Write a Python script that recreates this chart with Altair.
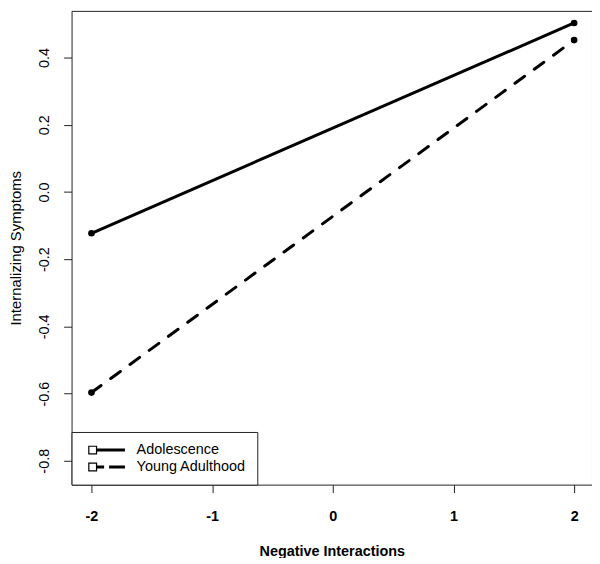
import altair as alt
import pandas as pd

# ---- data ----
x_values = [-2, 2]
adolescence = [-0.123, 0.503]
young_adulthood = [-0.597, 0.452]
series_names = ["Adolescence", "Young Adulthood"]
x_ticks = [-2, -1, 0, 1, 2]
y_ticks = [-0.8, -0.6, -0.4, -0.2, 0.0, 0.2, 0.4]

rows = []
for name, vals in zip(series_names, [adolescence, young_adulthood]):
    for xv, yv in zip(x_values, vals):
        rows.append({"x": xv, "y": yv, "series": name})
df = pd.DataFrame(rows)

FONT = "Liberation Sans"
INK = "#222222"

xs = alt.Scale(domain=[-2.165, 2.148], nice=False, zero=False)
ys = alt.Scale(domain=[-0.871, 0.539], nice=False, zero=False)

x_axis = alt.Axis(
    values=x_ticks,
    labelExpr="datum.value < 0 ? '-' + format(-datum.value, 'd') : format(datum.value, 'd')",
    labelFont=FONT, labelFontSize=14.5, labelFontWeight="bold", labelColor="black",
    labelPadding=17, tickSize=8, tickColor=INK, domain=False, grid=False,
    title="Negative Interactions", titleFont=FONT, titleFontSize=14.5,
    titleFontWeight="bold", titleColor="black", titlePadding=22,
)
y_axis = alt.Axis(
    values=y_ticks,
    labelExpr="datum.value < 0 ? '-' + format(-datum.value, '.1f') : format(datum.value, '.1f')",
    labelFont=FONT, labelFontSize=14.5, labelFontWeight="normal", labelColor="black",
    labelAngle=270, labelPadding=12, tickSize=8, tickColor=INK, domain=False, grid=False,
    title="Internalizing Symptoms", titleFont=FONT, titleFontSize=15,
    titleFontWeight="normal", titleColor="black", titlePadding=13,
)

base = alt.Chart(df).encode(
    x=alt.X("x:Q", scale=xs, axis=x_axis),
    y=alt.Y("y:Q", scale=ys, axis=y_axis),
)

line_solid = base.transform_filter(
    alt.datum.series == series_names[0]
).mark_line(color="black", strokeWidth=3, strokeCap="round")

line_dashed = base.transform_filter(
    alt.datum.series == series_names[1]
).mark_line(color="black", strokeWidth=3, strokeCap="round", strokeDash=[12, 12])

points = base.mark_point(filled=True, color="black", size=45, opacity=1)

# legend symbol: open square followed by a thick (solid / dashed) line
sq = ("M-0.33,-1L1.67,-1L1.67,1L-0.33,1Z "
      "M-0.06,-0.73L-0.06,0.73L1.4,0.73L1.4,-0.73Z")
solid_sym = sq + " M1.67,-0.333L7.89,-0.333L7.89,0.333L1.67,0.333Z"
dashed_sym = (sq + " M1.67,-0.333L3.23,-0.333L3.23,0.333L1.67,0.333Z"
              " M4.34,-0.333L7.89,-0.333L7.89,0.333L4.34,0.333Z")

legend_layer = base.mark_point(
    filled=True, color="black", size=81, opacity=0
).encode(
    shape=alt.Shape(
        "series:N",
        scale=alt.Scale(domain=series_names, range=[solid_sym, dashed_sym]),
        legend=alt.Legend(
            title=None, orient="bottom-left", offset=0, padding=11,
            strokeColor=INK, fillColor="white",
            labelFont=FONT, labelFontSize=14.5, labelColor="black", labelOffset=40,
            symbolSize=81, symbolFillColor="black", symbolStrokeWidth=0,
            symbolOpacity=1, rowPadding=2,
        ),
    )
)

chart = alt.layer(line_solid, line_dashed, points, legend_layer).properties(
    width=524,
    height=477,
    autosize=alt.AutoSizeParams(type="none"),
    padding={"left": 64, "top": 1, "right": 0, "bottom": 72},
).configure(
    background="white"
).configure_view(
    stroke=INK, strokeWidth=1
)

chart.save("out.html", embed_options={"renderer": "svg", "actions": False})
